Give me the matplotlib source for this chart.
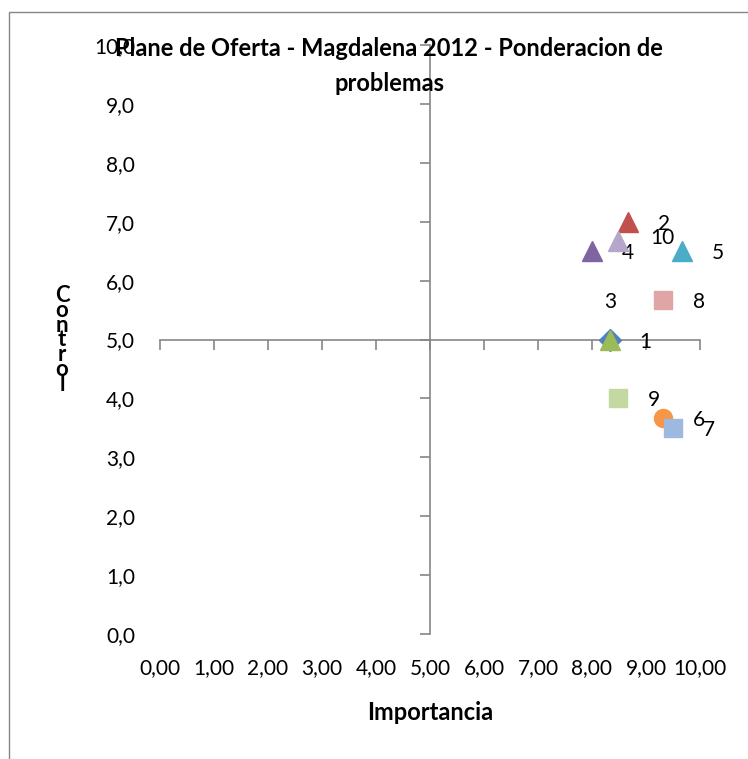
import matplotlib.pyplot as plt
from matplotlib.patches import Rectangle
from matplotlib.ticker import FuncFormatter, MultipleLocator

plt.rcParams['font.family'] = ['Lato', 'DejaVu Sans']

# datos de ponderacion de problemas
problemas = ['1', '2', '3', '4', '5', '6', '7', '8', '9', '10']
importancia = [8.33, 8.67, 8.33, 8.00, 9.67, 9.31, 9.50, 9.31, 8.48, 8.48]
control = [5.00, 7.00, 5.00, 6.50, 6.50, 3.67, 3.50, 5.67, 4.00, 6.67]

colores = ['#4F81BD', '#C0504D', '#9BBB59', '#8064A2', '#4BACC6',
           '#F79646', '#9DB9E0', '#DFA6A5', '#C4D8A2', '#B4A7C9']
marcadores = ['D', '^', '^', '^', '^', 'o', 's', 's', 's', '^']
tamanos = [11, 14, 14, 14, 14, 13, 13, 13, 13, 14]

# desplazamiento de las etiquetas (pixeles)
desp = {'3': (0, 38), '10': (44, 3)}

gris = '#868686'

fig = plt.figure(figsize=(7.48, 7.59), dpi=100)
ax = fig.add_axes([160 / 748, 1 - 634 / 759, 540 / 748, 589 / 759])
ax.set_xlim(0, 10)
ax.set_ylim(0, 10)
ax.patch.set_visible(False)

for nombre, x, y, c, m, s in zip(problemas, importancia, control, colores, marcadores, tamanos):
    ax.plot(x, y, linestyle='none', marker=m, markersize=s, color=c,
            markeredgecolor=c, clip_on=False, zorder=3)
    dx, dy = desp.get(nombre, (36, -2))
    ax.annotate(nombre, (x, y), xytext=(dx, dy), textcoords='offset pixels',
                ha='center', va='center', fontsize=15, color='black')

# ejes cruzados en (5, 5)
ax.spines['left'].set_position(('data', 5))
ax.spines['bottom'].set_position(('data', 5))
ax.spines['right'].set_visible(False)
ax.spines['top'].set_visible(False)
for sp in ['left', 'bottom']:
    ax.spines[sp].set_color(gris)
    ax.spines[sp].set_linewidth(1.2)
ax.xaxis.set_major_locator(MultipleLocator(1))
ax.yaxis.set_major_locator(MultipleLocator(1))
ax.tick_params(axis='both', direction='out', length=7, color=gris, width=1.2,
               labelbottom=False, labelleft=False)

# etiquetas de los ejes en los bordes
secx = ax.secondary_xaxis(0)
secx.set_xticks(range(0, 11))
secx.xaxis.set_major_formatter(FuncFormatter(lambda v, p: f'{v:.2f}'.replace('.', ',')))
secx.tick_params(length=0, pad=17, labelsize=15)
secx.spines['bottom'].set_visible(False)

secy = ax.secondary_yaxis(0)
secy.set_yticks(range(0, 11))
secy.yaxis.set_major_formatter(FuncFormatter(lambda v, p: f'{v:.1f}'.replace('.', ',')))
secy.tick_params(length=0, pad=18, labelsize=15)
secy.spines['left'].set_visible(False)

fig.text(430 / 748, 1 - 712 / 759, 'Importancia', ha='center', va='center',
         fontsize=17, fontweight='bold')
fig.text(62 / 748, 1 - 340 / 759, '\n'.join('Control'), ha='center', va='center',
         fontsize=16, fontweight='bold', linespacing=0.64)

fig.text(389 / 748, 1 - 66 / 759,
         'Plane de Oferta - Magdalena 2012 - Ponderacion de\nproblemas',
         ha='center', va='center', fontsize=17, fontweight='bold', linespacing=1.6)

# marco del grafico
fig.patches.append(Rectangle((9 / 748, -0.1), 2, 1.1 - 12 / 759, transform=fig.transFigure,
                             fill=False, edgecolor=gris, linewidth=1))

fig.savefig('out.png', dpi=100)
